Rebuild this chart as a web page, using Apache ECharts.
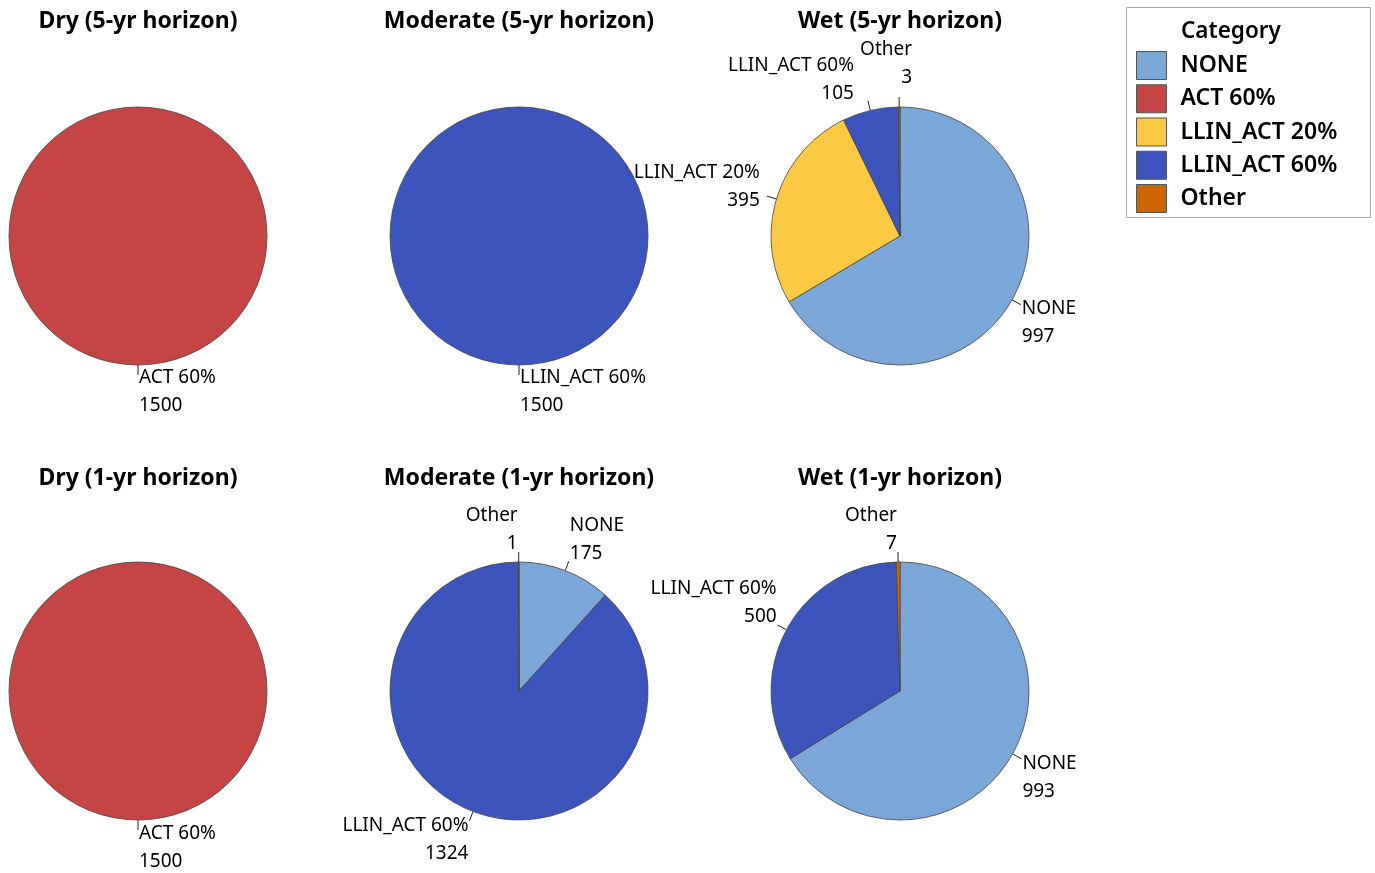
<!DOCTYPE html>
<html>
<head>
<meta charset="utf-8">
<script src="https://cdn.jsdelivr.net/npm/echarts@6/dist/echarts.min.js"></script>
<style>
  html, body { margin: 0; padding: 0; background: #fff; }
  #chart { width: 1375px; height: 873px; }
</style>
</head>
<body>
<div id="chart"></div>
<script>
const categories = ["NONE", "ACT 60%", "LLIN_ACT 20%", "LLIN_ACT 60%", "Other"];
const categoryColors = ["#7BA7D8", "#C44543", "#FBC943", "#3C55BD", "#CC6600"];

const panelTitles = [
  "Dry (5-yr horizon)", "Moderate (5-yr horizon)", "Wet (5-yr horizon)",
  "Dry (1-yr horizon)", "Moderate (1-yr horizon)", "Wet (1-yr horizon)",
];

// slices listed clockwise from 12 o'clock
const dry5Names = ["ACT 60%"];
const dry5Values = [1500];
const moderate5Names = ["LLIN_ACT 60%"];
const moderate5Values = [1500];
const wet5Names = ["NONE", "LLIN_ACT 20%", "LLIN_ACT 60%", "Other"];
const wet5Values = [997, 395, 105, 3];
const dry1Names = ["ACT 60%"];
const dry1Values = [1500];
const moderate1Names = ["NONE", "LLIN_ACT 60%", "Other"];
const moderate1Values = [175, 1324, 1];
const wet1Names = ["NONE", "LLIN_ACT 60%", "Other"];
const wet1Values = [993, 500, 7];

const panels = [
  [dry5Names, dry5Values], [moderate5Names, moderate5Values], [wet5Names, wet5Values],
  [dry1Names, dry1Values], [moderate1Names, moderate1Values], [wet1Names, wet1Values],
];

// label nudges per slice: [vertical shift (px, + = down), extra gap from line end]
const labelNudge = [
  [[17, 0]],
  [[17, 0]],
  [[18, 0], [-10, 6], [-21, 13], [-33, 0]],
  [[18, 0]],
  [[-22, 0], [19, 0], [-22, 0]],
  [[19, 0], [-22, 0], [-22, 0]],
];

const FONT = "Noto Sans";
const colX = [138, 519, 900];
const rowY = [236, 691];
const titleTop = [10, 467];

const colorOf = (name) => categoryColors[categories.indexOf(name)];

function sliceLabel(i, k) {
  const [shift, gap] = labelNudge[i][k];
  const h = Math.abs(shift) * 2;
  const formatter = shift >= 0 ? "{s| }\n{b}\n{c}" : "{b}\n{c}\n{s| }";
  return {
    formatter,
    padding: [0, gap, 0, 0],
    rich: { s: { fontSize: 1, lineHeight: h || 1 } },
  };
}

const chart = echarts.init(document.getElementById("chart"), null, { renderer: "canvas" });

chart.setOption({
  animation: false,
  backgroundColor: "#fff",
  title: panelTitles.map((t, i) => ({
    text: t,
    left: colX[i % 3],
    top: titleTop[Math.floor(i / 3)],
    padding: 0,
    textAlign: "center",
    textStyle: { fontFamily: FONT, fontSize: 23, fontWeight: "bold", color: "#000" },
  })),
  legend: {
    data: categories,
    orient: "vertical",
    left: 1136,
    top: 51,
    padding: 0,
    itemWidth: 30,
    itemHeight: 28,
    itemGap: 4.25,
    icon: "rect",
    selectedMode: false,
    itemStyle: { borderColor: "#555", borderWidth: 1 },
    textStyle: {
      fontFamily: FONT, fontSize: 23, fontWeight: 600, color: "#000",
      lineHeight: 28, padding: [0, 0, 0, 9],
    },
  },
  graphic: [
    {
      type: "rect",
      shape: { x: 1126.5, y: 7.5, width: 244, height: 210 },
      style: { fill: "none", stroke: "#aaa", lineWidth: 1 },
    },
    {
      type: "text",
      x: 1181,
      y: 32,
      style: {
        text: "Category",
        fill: "#000",
        font: `600 22.5px "${FONT}"`,
        textVerticalAlign: "middle",
      },
    },
  ],
  series: panels.map(([names, values], i) => ({
    type: "pie",
    center: [colX[i % 3], rowY[Math.floor(i / 3)]],
    radius: 129,
    startAngle: 90,
    clockwise: true,
    avoidLabelOverlap: false,
    data: names.map((n, k) => ({
      name: n,
      value: values[k],
      itemStyle: { color: colorOf(n) },
      label: sliceLabel(i, k),
    })),
    itemStyle: { borderColor: "#444", borderWidth: 0.8 },
    emphasis: { disabled: true },
    label: {
      show: true,
      position: "outside",
      fontFamily: FONT,
      fontSize: 19,
      lineHeight: 28,
      color: "#000",
      distanceToLabelLine: 1,
    },
    labelLine: {
      show: true,
      length: 10,
      length2: 0,
      lineStyle: { color: "#222", width: 1 },
    },
    labelLayout: i === 2 ? (p) => (p.dataIndex === 3 ? { dx: 14 } : {}) : undefined,
  })),
});
</script>
</body>
</html>
